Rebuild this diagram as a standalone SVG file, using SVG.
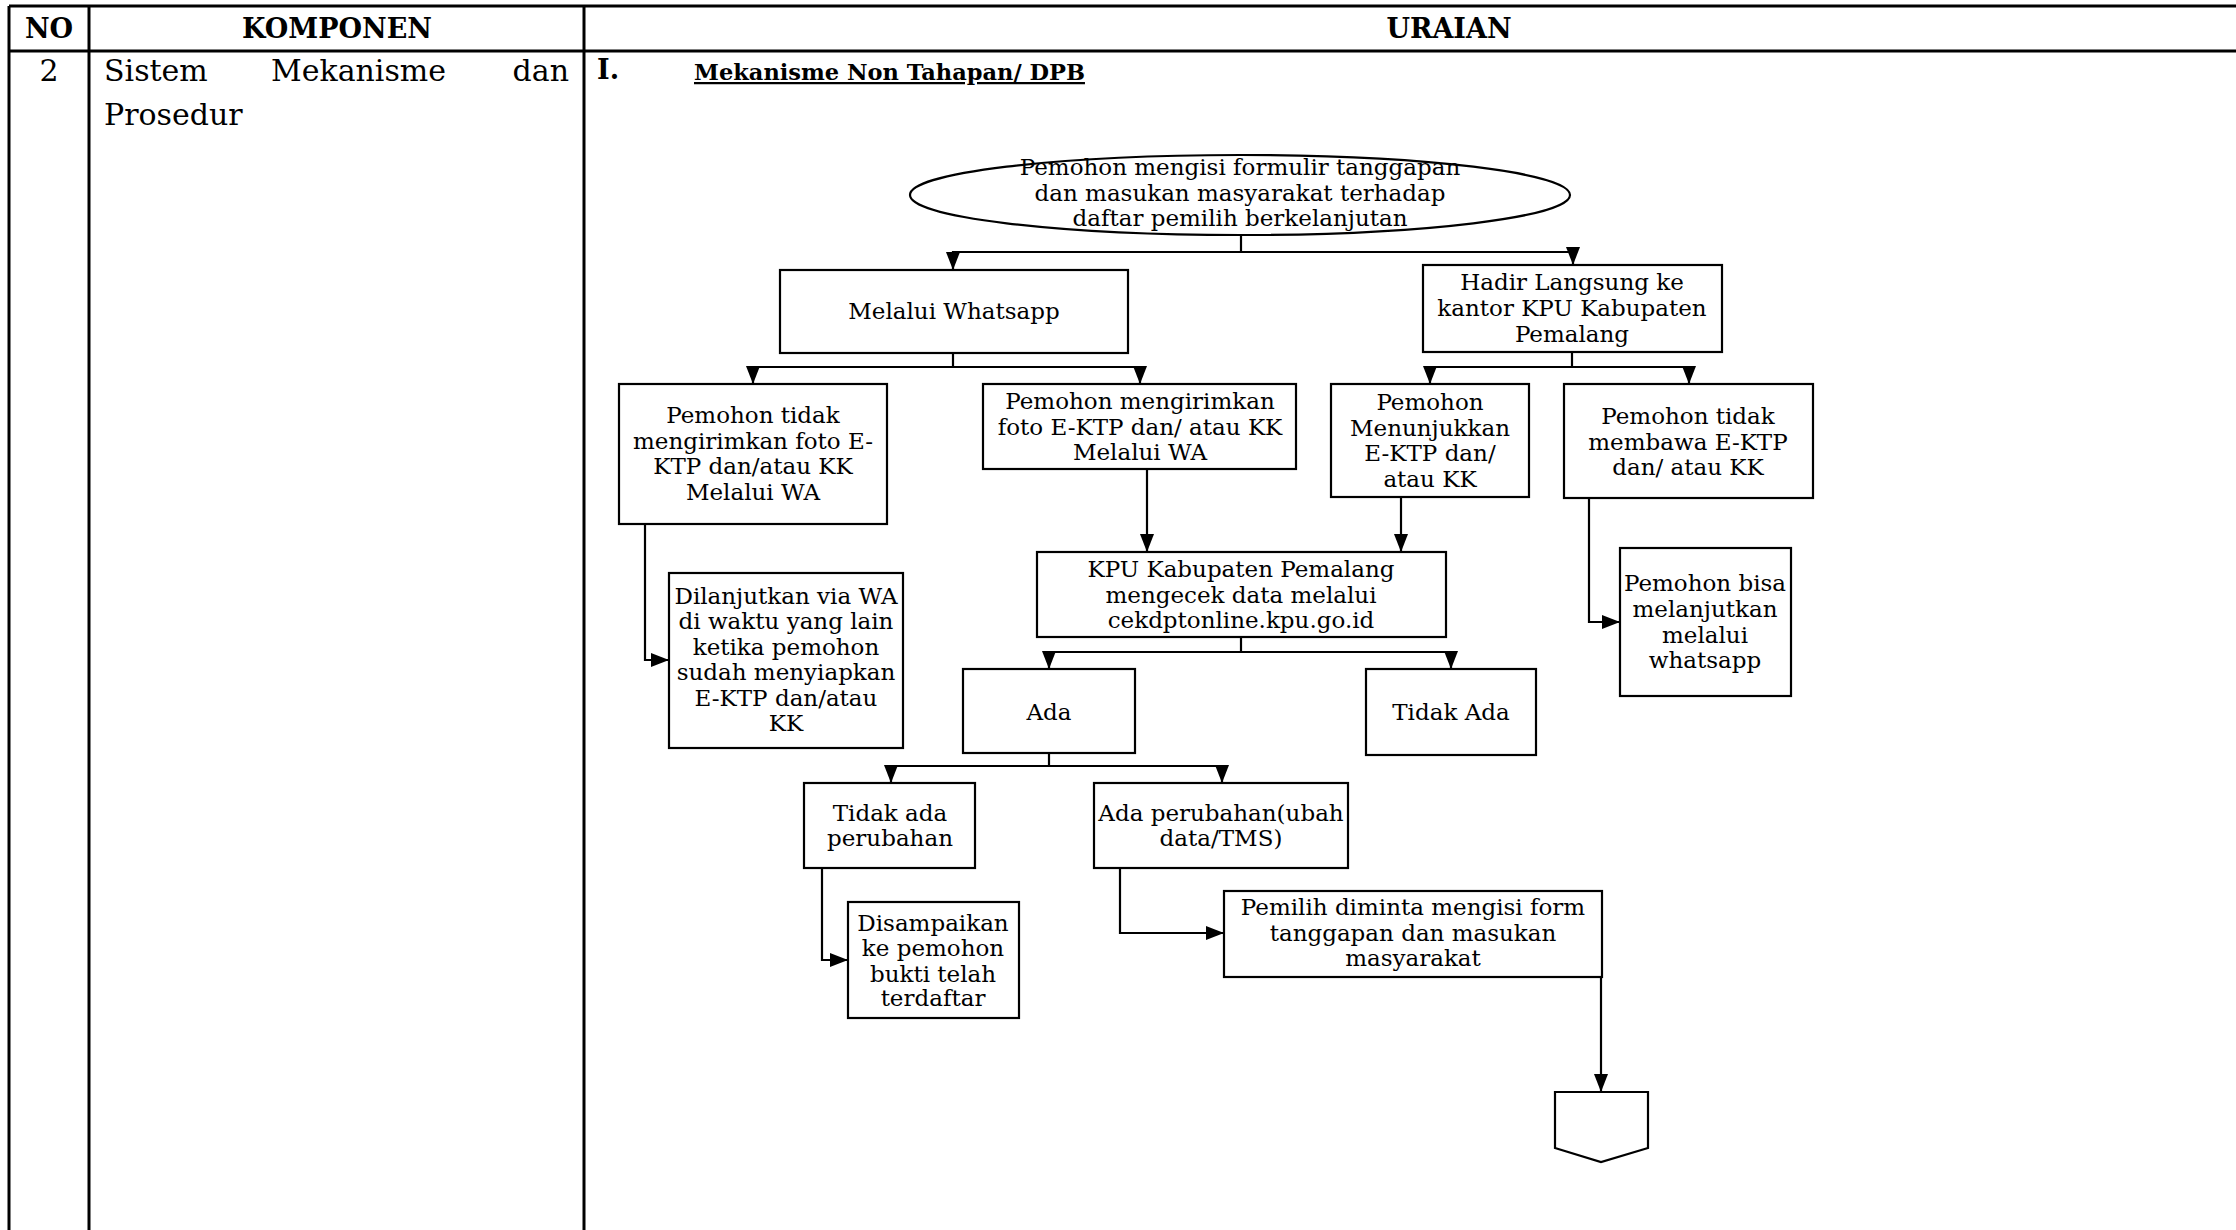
<svg xmlns="http://www.w3.org/2000/svg" width="2236" height="1230" viewBox="0 0 2236 1230">
<style>
.tbl{stroke:#000;stroke-width:3;fill:none}
.hd{font-family:"DejaVu Serif","Liberation Serif",serif;font-weight:bold;font-size:27px;fill:#000}
.bd{font-family:"DejaVu Serif","Liberation Serif",serif;font-size:30px;fill:#000}
.ttl{font-family:"DejaVu Serif","Liberation Serif",serif;font-weight:bold;font-size:22.5px;fill:#000;text-decoration:underline}
.box{fill:#fff;stroke:#000;stroke-width:2.2}
.t{font-family:"DejaVu Serif","Liberation Serif",serif;font-size:23px;fill:#000;text-anchor:middle}
.c{fill:none;stroke:#000;stroke-width:2.2;marker-end:url(#arr)}
</style>
<defs>
<marker id="arr" viewBox="0 0 18 14" refX="18" refY="7" markerWidth="18" markerHeight="14" markerUnits="userSpaceOnUse" orient="auto">
<path d="M0,0 L18,7 L0,14 Z" fill="#000"/>
</marker>
</defs>
<rect width="2236" height="1230" fill="#fff"/>
<g id="table">
<line class="tbl" x1="9" y1="6" x2="2236" y2="6"/>
<line class="tbl" x1="9" y1="51" x2="2236" y2="51"/>
<line class="tbl" x1="9" y1="6" x2="9" y2="1230"/>
<line class="tbl" x1="89" y1="6" x2="89" y2="1230"/>
<line class="tbl" x1="584" y1="6" x2="584" y2="1230"/>
<text class="hd" x="49" y="38" text-anchor="middle">NO</text>
<text class="hd" x="337" y="38" text-anchor="middle">KOMPONEN</text>
<text class="hd" x="1449" y="38" text-anchor="middle">URAIAN</text>
<text class="bd" x="49" y="81" text-anchor="middle">2</text>
<text class="bd" x="104" y="81">Sistem</text>
<text class="bd" x="271" y="81">Mekanisme</text>
<text class="bd" x="569" y="81" text-anchor="end">dan</text>
<text class="bd" x="104" y="125">Prosedur</text>
<text class="hd" x="597" y="79" font-size="28px">I.</text>
<text class="ttl" x="694" y="80">Mekanisme Non Tahapan/ DPB</text>
</g>
<g id="connectors">
<path class="c" d="M1241,235 V252 H953 V270"/>
<path class="c" d="M1241,252 H1573 V265"/>
<path class="c" d="M953,353 V367 H753 V384"/>
<path class="c" d="M953,367 H1140 V384"/>
<path class="c" d="M1572,352 V367 H1430 V384"/>
<path class="c" d="M1572,367 H1689 V384"/>
<path class="c" d="M645,524 V660 H669"/>
<path class="c" d="M1147,469 V552"/>
<path class="c" d="M1401,488 V552"/>
<path class="c" d="M1589,498 V622 H1620"/>
<path class="c" d="M1241,637 V652 H1049 V669"/>
<path class="c" d="M1241,652 H1451 V669"/>
<path class="c" d="M1049,753 V766 H891 V783"/>
<path class="c" d="M1049,766 H1222 V783"/>
<path class="c" d="M822,868 V960 H848"/>
<path class="c" d="M1120,868 V933 H1224"/>
<path class="c" d="M1601,977 V1092"/>
</g>
<g id="n-start">
<ellipse class="box" cx="1240" cy="195" rx="330" ry="40"/>
<text class="t" x="1240" y="175">Pemohon mengisi formulir tanggapan</text>
<text class="t" x="1240" y="201">dan masukan masyarakat terhadap</text>
<text class="t" x="1240" y="226">daftar pemilih berkelanjutan</text>
</g>
<g id="n-wa">
<rect class="box" x="780" y="270" width="348" height="83"/>
<text class="t" x="954" y="319">Melalui Whatsapp</text>
</g>
<g id="n-hadir">
<rect class="box" x="1423" y="265" width="299" height="87"/>
<text class="t" x="1572" y="290">Hadir Langsung ke</text>
<text class="t" x="1572" y="316">kantor KPU Kabupaten</text>
<text class="t" x="1572" y="342">Pemalang</text>
</g>
<g id="n-tidak-kirim">
<rect class="box" x="619" y="384" width="268" height="140"/>
<text class="t" x="753" y="423">Pemohon tidak</text>
<text class="t" x="753" y="449">mengirimkan foto E-</text>
<text class="t" x="753" y="474">KTP dan/atau KK</text>
<text class="t" x="753" y="500">Melalui WA</text>
</g>
<g id="n-kirim">
<rect class="box" x="983" y="384" width="313" height="85"/>
<text class="t" x="1140" y="409">Pemohon mengirimkan</text>
<text class="t" x="1140" y="435">foto E-KTP dan/ atau KK</text>
<text class="t" x="1140" y="460">Melalui WA</text>
</g>
<g id="n-tunjuk">
<rect class="box" x="1331" y="384" width="198" height="113"/>
<text class="t" x="1430" y="410">Pemohon</text>
<text class="t" x="1430" y="436">Menunjukkan</text>
<text class="t" x="1430" y="461">E-KTP dan/</text>
<text class="t" x="1430" y="487">atau KK</text>
</g>
<g id="n-tidak-bawa">
<rect class="box" x="1564" y="384" width="249" height="114"/>
<text class="t" x="1688" y="424">Pemohon tidak</text>
<text class="t" x="1688" y="450">membawa E-KTP</text>
<text class="t" x="1688" y="475">dan/ atau KK</text>
</g>
<g id="n-lanjut-wa">
<rect class="box" x="669" y="573" width="234" height="175"/>
<text class="t" x="786" y="604">Dilanjutkan via WA</text>
<text class="t" x="786" y="629">di waktu yang lain</text>
<text class="t" x="786" y="655">ketika pemohon</text>
<text class="t" x="786" y="680">sudah menyiapkan</text>
<text class="t" x="786" y="706">E-KTP dan/atau</text>
<text class="t" x="786" y="731">KK</text>
</g>
<g id="n-kpu">
<rect class="box" x="1037" y="552" width="409" height="85"/>
<text class="t" x="1241" y="577">KPU Kabupaten Pemalang</text>
<text class="t" x="1241" y="603">mengecek data melalui</text>
<text class="t" x="1241" y="628">cekdptonline.kpu.go.id</text>
</g>
<g id="n-bisa">
<rect class="box" x="1620" y="548" width="171" height="148"/>
<text class="t" x="1705" y="591">Pemohon bisa</text>
<text class="t" x="1705" y="617">melanjutkan</text>
<text class="t" x="1705" y="643">melalui</text>
<text class="t" x="1705" y="668">whatsapp</text>
</g>
<g id="n-ada">
<rect class="box" x="963" y="669" width="172" height="84"/>
<text class="t" x="1049" y="720">Ada</text>
</g>
<g id="n-tidak-ada">
<rect class="box" x="1366" y="669" width="170" height="86"/>
<text class="t" x="1451" y="720">Tidak Ada</text>
</g>
<g id="n-tidak-ubah">
<rect class="box" x="804" y="783" width="171" height="85"/>
<text class="t" x="890" y="821">Tidak ada</text>
<text class="t" x="890" y="846">perubahan</text>
</g>
<g id="n-ubah">
<rect class="box" x="1094" y="783" width="254" height="85"/>
<text class="t" x="1221" y="821">Ada perubahan(ubah</text>
<text class="t" x="1221" y="846">data/TMS)</text>
</g>
<g id="n-disampaikan">
<rect class="box" x="848" y="902" width="171" height="116"/>
<text class="t" x="933" y="931">Disampaikan</text>
<text class="t" x="933" y="956">ke pemohon</text>
<text class="t" x="933" y="982">bukti telah</text>
<text class="t" x="933" y="1006">terdaftar</text>
</g>
<g id="n-pemilih">
<rect class="box" x="1224" y="891" width="378" height="86"/>
<text class="t" x="1413" y="915">Pemilih diminta mengisi form</text>
<text class="t" x="1413" y="941">tanggapan dan masukan</text>
<text class="t" x="1413" y="966">masyarakat</text>
</g>
<g id="n-offpage">
<path class="box" d="M1555,1092 H1648 V1148 L1601,1162 L1555,1148 Z"/>
</g>
</svg>
